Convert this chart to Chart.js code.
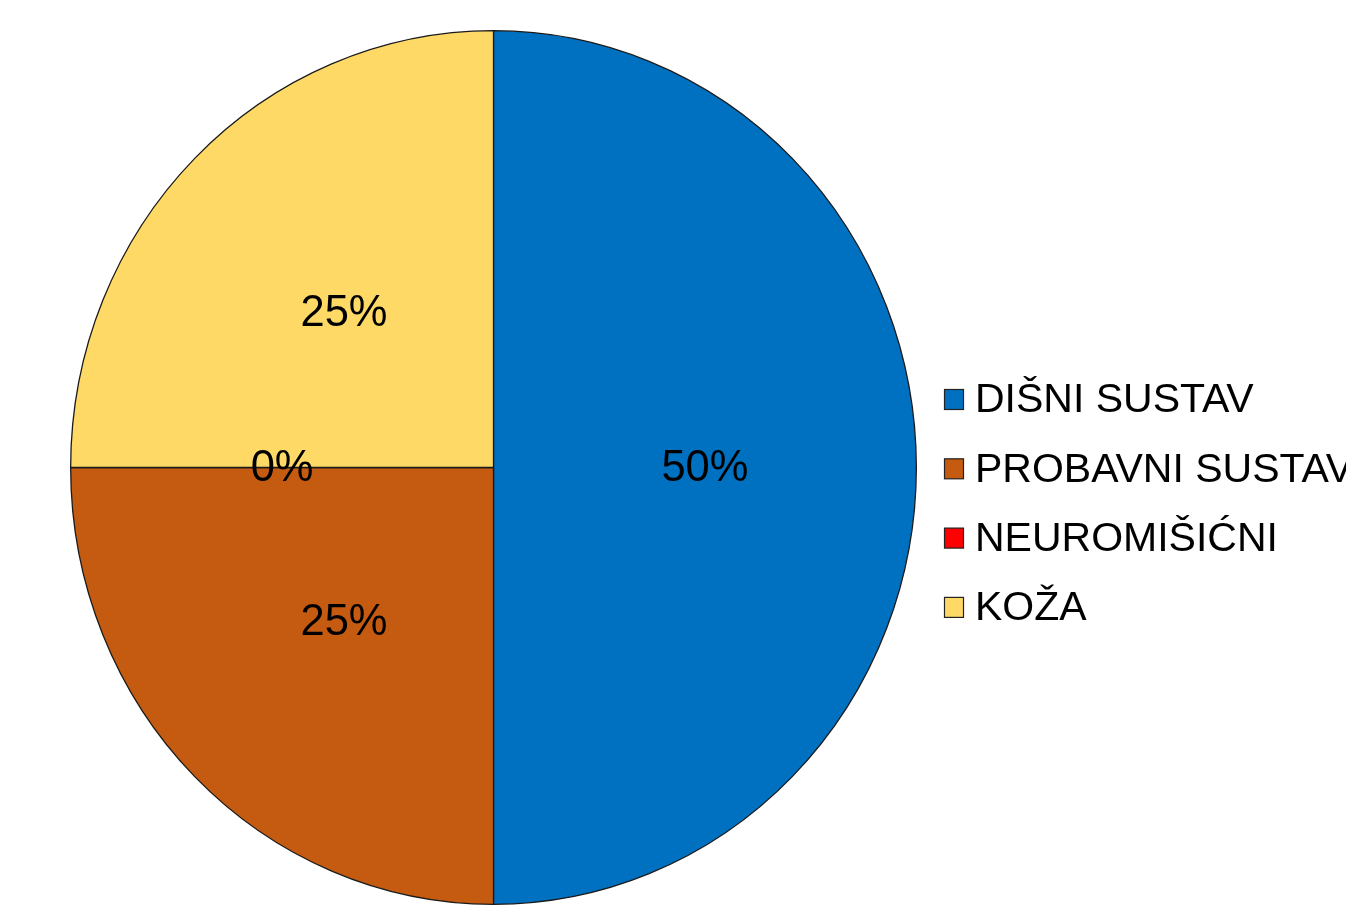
<!DOCTYPE html>
<html>
<head>
<meta charset="utf-8">
<script src="https://cdn.jsdelivr.net/npm/chart.js@4.4.1/dist/chart.umd.min.js"></script>
<style>
  html, body { margin: 0; padding: 0; background: #fff; overflow: hidden; }
  #wrap { width: 1346px; height: 921px; position: relative; }
</style>
</head>
<body>
<div id="wrap"><canvas id="chart" width="1346" height="921"></canvas></div>
<script>
// Podaci
const categories = ["DIŠNI SUSTAV", "PROBAVNI SUSTAV", "NEUROMIŠIĆNI", "KOŽA"];
const values = [50, 25, 0, 25];
const colors = ["#0070C0", "#C55A11", "#FF0000", "#FFD966"];

// pie in the reference is slightly taller than wide
const yStretch = 437 / 423;

function stretch(ctx, chart) {
    const arc = chart.getDatasetMeta(0).data[0];
    ctx.translate(arc.x, arc.y);
    ctx.scale(1, yStretch);
    ctx.translate(-arc.x, -arc.y);
}

const stretchPlugin = {
    id: "stretch",
    beforeDatasetsDraw(chart) {
        chart.ctx.save();
        stretch(chart.ctx, chart);
    },
    afterDatasetsDraw(chart) {
        chart.ctx.restore();
    }
};

// Postoci u isječcima
const labelPlugin = {
    id: "pctLabels",
    afterDatasetsDraw(chart) {
        const ctx = chart.ctx;
        const meta = chart.getDatasetMeta(0);
        const total = values.reduce((a, b) => a + b, 0);
        ctx.save();
        ctx.font = "43.5px 'Liberation Sans', Arial, sans-serif";
        ctx.fillStyle = "#000";
        ctx.textAlign = "center";
        ctx.textBaseline = "middle";
        meta.data.forEach((arc, i) => {
            const p = arc.tooltipPosition();
            const y = arc.y + (p.y - arc.y) * yStretch;
            const pct = Math.round(values[i] / total * 100) + "%";
            ctx.fillText(pct, p.x, y + 1);
        });
        ctx.restore();
    }
};

// Legenda
const legendPlugin = {
    id: "sideLegend",
    afterDraw(chart) {
        const ctx = chart.ctx;
        ctx.save();
        ctx.font = "41px 'Liberation Sans', Arial, sans-serif";
        ctx.textBaseline = "middle";
        categories.forEach((c, i) => {
            const y = 400 + i * 69.3;
            ctx.fillStyle = colors[i];
            ctx.fillRect(944.5, y - 10.5, 19, 20);
            ctx.strokeStyle = "#222";
            ctx.lineWidth = 1.2;
            ctx.strokeRect(944.5, y - 10.5, 19, 20);
            ctx.fillStyle = "#000";
            ctx.fillText(c, 975, y + 1);
        });
        ctx.restore();
    }
};

const ctx = document.getElementById("chart").getContext("2d");
new Chart(ctx, {
    type: "pie",
    data: {
        labels: categories,
        datasets: [{
            data: values,
            backgroundColor: colors,
            borderColor: "#1a1a1a",
            borderWidth: 1.3
        }]
    },
    options: {
        responsive: false,
        animation: false,
        layout: { padding: { left: 70, right: 429, top: 44, bottom: 30 } },
        plugins: {
            legend: { display: false },
            tooltip: { enabled: false }
        }
    },
    plugins: [stretchPlugin, labelPlugin, legendPlugin]
});
</script>
</body>
</html>
